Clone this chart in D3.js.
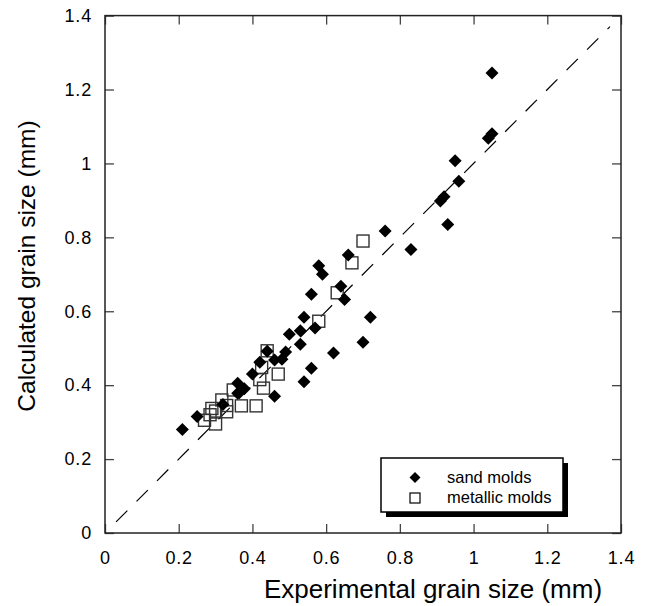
<!DOCTYPE html>
<html>
<head>
<meta charset="utf-8">
<script src="https://cdn.jsdelivr.net/npm/d3@7"></script>
<style>
  body { margin: 0; background: #fff; }
  text { font-family: "Liberation Sans", Arial, sans-serif; }
</style>
</head>
<body>
<div id="chart"></div>
<script>
// sand molds (filled diamonds): experimental vs calculated grain size
var sandX = [0.21, 0.25, 0.32, 0.36, 0.378, 0.36, 0.40, 0.42, 0.44, 0.46, 0.48, 0.49, 0.46, 0.50, 0.53, 0.53, 0.54, 0.57, 0.54, 0.56, 0.62, 0.56, 0.58, 0.59, 0.64, 0.65, 0.66, 0.70, 0.72, 0.76, 0.83, 0.91, 0.92, 0.93, 0.95, 0.96, 1.04, 1.05, 1.05];
var sandY = [0.28, 0.315, 0.348, 0.405, 0.39, 0.378, 0.43, 0.462, 0.492, 0.468, 0.47, 0.49, 0.37, 0.538, 0.511, 0.547, 0.584, 0.555, 0.409, 0.446, 0.487, 0.646, 0.723, 0.70, 0.668, 0.632, 0.752, 0.516, 0.584, 0.817, 0.767, 0.898, 0.91, 0.835, 1.007, 0.952, 1.068, 1.08, 1.245];

// metallic molds (open squares)
var metalX = [0.27, 0.285, 0.29, 0.30, 0.30, 0.317, 0.33, 0.33, 0.348, 0.37, 0.41, 0.43, 0.42, 0.425, 0.47, 0.44, 0.58, 0.63, 0.67, 0.70];
var metalY = [0.305, 0.32, 0.337, 0.295, 0.33, 0.36, 0.328, 0.345, 0.387, 0.344, 0.344, 0.392, 0.415, 0.448, 0.43, 0.493, 0.573, 0.65, 0.731, 0.79];

var tickValues = [0, 0.2, 0.4, 0.6, 0.8, 1, 1.2, 1.4];
var diagLine = [0.03, 1.37];

var seriesNames = ['sand molds', 'metallic molds'];

var width = 645, height = 606;
var margin = {top: 15.6, right: 24, bottom: 73, left: 105};

var svg = d3.select('#chart')
    .append('svg')
    .attr('width', width)
    .attr('height', height);

var x = d3.scaleLinear()
    .domain([0, 1.4])
    .range([margin.left, width - margin.right]);

var y = d3.scaleLinear()
    .domain([0, 1.4])
    .range([height - margin.bottom, margin.top]);

var fmt = function(d){ return d === 0 ? '0' : d3.format('.1~f')(d); };

//Axes with inward ticks
var xAxis = svg.append('g')
    .attr('transform', 'translate(0,' + y(0) + ')')
    .call(d3.axisBottom(x).tickValues(tickValues).tickSize(-9).tickPadding(18.5).tickFormat(fmt));
var yAxis = svg.append('g')
    .attr('transform', 'translate(' + x(0) + ',0)')
    .call(d3.axisLeft(y).tickValues(tickValues).tickSize(-9).tickPadding(13).tickFormat(fmt));
var xTop = svg.append('g')
    .attr('transform', 'translate(0,' + y(1.4) + ')')
    .call(d3.axisTop(x).tickValues(tickValues).tickSize(-9).tickFormat(''));
var yRight = svg.append('g')
    .attr('transform', 'translate(' + x(1.4) + ',0)')
    .call(d3.axisRight(y).tickValues(tickValues).tickSize(-9).tickFormat(''));

[xAxis, yAxis, xTop, yRight].forEach(function(g){
    g.select('.domain').remove();
    g.selectAll('line').attr('stroke', '#444').attr('stroke-width', 1.3);
    g.selectAll('text')
        .style('font-size', '18px')
        .style('letter-spacing', '0.8px')
        .attr('fill', '#000');
});

//Frame
svg.append('rect')
    .attr('x', x(0))
    .attr('y', y(1.4))
    .attr('width', x(1.4) - x(0))
    .attr('height', y(0) - y(1.4))
    .style('fill', 'none')
    .style('stroke', '#222')
    .style('stroke-width', 1.5);

//Diagonal dashed line
svg.append('line')
    .attr('x1', x(diagLine[0]))
    .attr('y1', y(diagLine[0]))
    .attr('x2', x(diagLine[1]))
    .attr('y2', y(diagLine[1]))
    .style('stroke', '#000')
    .style('stroke-width', 1.2)
    .style('stroke-dasharray', '16,13');

//Metallic molds squares
var sq = 12;
svg.selectAll('.metal')
    .data(metalX)
    .enter()
    .append('rect')
    .attr('class', 'metal')
    .attr('x', function(d){ return x(d) - sq / 2; })
    .attr('y', function(d, i){ return y(metalY[i]) - sq / 2; })
    .attr('width', sq)
    .attr('height', sq)
    .style('fill', 'none')
    .style('stroke', '#333')
    .style('stroke-width', 1.4);

//Sand molds diamonds
var diamond = function(cx, cy, r){
    return 'M' + cx + ',' + (cy - r) + 'L' + (cx + r) + ',' + cy + 'L' + cx + ',' + (cy + r) + 'L' + (cx - r) + ',' + cy + 'Z';
};
svg.selectAll('.sand')
    .data(sandX)
    .enter()
    .append('path')
    .attr('class', 'sand')
    .attr('d', function(d, i){ return diamond(x(d), y(sandY[i]), 6.5); })
    .style('fill', '#000');

//Legend
var lx = 381, ly = 458, lw = 182, lh = 54;
svg.append('rect')
    .attr('x', lx + 5)
    .attr('y', ly + 5)
    .attr('width', lw)
    .attr('height', lh)
    .style('fill', '#000');
svg.append('rect')
    .attr('x', lx)
    .attr('y', ly)
    .attr('width', lw)
    .attr('height', lh)
    .style('fill', '#fff')
    .style('stroke', '#000')
    .style('stroke-width', 1.5);

svg.append('path')
    .attr('d', diamond(415, 477.5, 5.5))
    .style('fill', '#000');
svg.append('rect')
    .attr('x', 410)
    .attr('y', 493)
    .attr('width', 10)
    .attr('height', 10)
    .style('fill', 'none')
    .style('stroke', '#000')
    .style('stroke-width', 1.2);

svg.selectAll('.legend-text')
    .data(seriesNames)
    .enter()
    .append('text')
    .attr('class', 'legend-text')
    .attr('x', 447)
    .attr('y', function(d, i){ return 483 + i * 20; })
    .style('font-size', '16.5px')
    .text(function(d){ return d; });

//Axis titles
svg.append('text')
    .attr('x', 433)
    .attr('y', 598)
    .attr('text-anchor', 'middle')
    .style('font-size', '26px')
    .text('Experimental grain size (mm)');

svg.append('text')
    .attr('transform', 'translate(35,' + 266 + ') rotate(-90)')
    .attr('text-anchor', 'middle')
    .style('font-size', '24.5px')
    .text('Calculated grain size (mm)');
</script>
</body>
</html>
